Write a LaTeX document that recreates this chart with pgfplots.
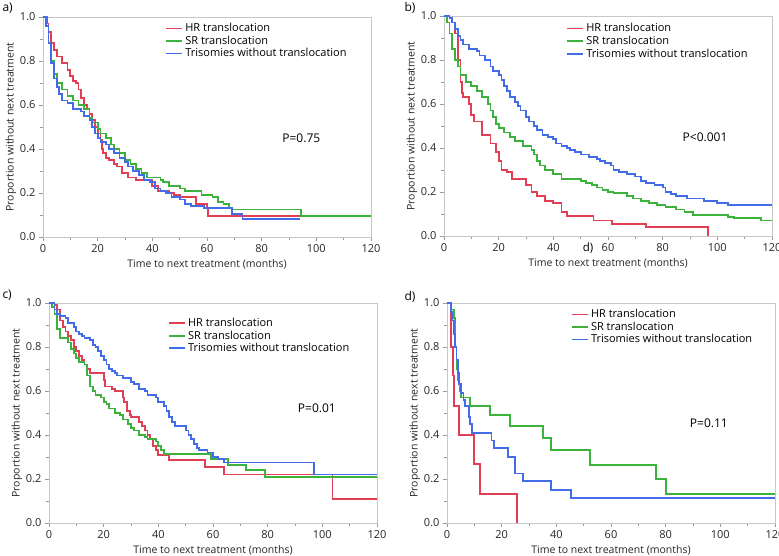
\documentclass[border=0pt]{standalone}
\usepackage{fontspec}
\setmainfont{Open Sans}
\usepackage{pgfplots}
\pgfplotsset{compat=1.18}

\definecolor{hrred}{RGB}{226,62,84}
\definecolor{srgreen}{RGB}{58,178,60}
\definecolor{trblue}{RGB}{66,108,232}

\tikzset{pval/.style={font=\fontsize{12}{14}\selectfont}}
\pgfplotsset{
  km/.style={
    scale only axis, width=328pt, height=220pt,
    xmin=0, xmax=120, ymin=0, ymax=1,
    xtick={0,20,...,120}, ytick={0,0.2,...,1},
    minor x tick num=1, minor y tick num=1,
    tick align=outside, xtick pos=bottom, ytick pos=left,
    major tick length=4pt, minor tick length=3pt,
    axis line style={black!22, line width=0.9pt},
    tick style={black!40, line width=0.7pt},
    /pgf/number format/assume math mode=true,
    tick label style={font=\fontsize{11}{13}\selectfont, text=black!85},
    yticklabel style={/pgf/number format/.cd, fixed, fixed zerofill, precision=1},
    label style={font=\fontsize{10.5}{12}\selectfont, text=black!85},
    xlabel={Time to next treatment (months)},
    ylabel={Proportion without next treatment},
    xlabel style={yshift=0pt},
    ylabel style={yshift=-3pt},
    legend cell align=left,
    legend style={draw=none, fill=none, font=\fontsize{11}{13.5}\selectfont,
      anchor=north west, row sep=-1.3pt, inner sep=1pt},
    legend image code/.code={\draw[#1] (0pt,0pt) -- (16pt,0pt);},
  },
  hr/.style={const plot, color=hrred, line width=1.8pt, mark=none},
  sr/.style={const plot, color=srgreen, line width=1.8pt, mark=none},
  tr/.style={const plot, color=trblue, line width=1.8pt, mark=none},
}

\begin{document}
\begin{tikzpicture}
\path[use as bounding box] (0pt,0pt) rectangle (779pt,556pt);

% ---------- a)
\begin{axis}[km, at={(43pt,319pt)}, anchor=south west, legend style={at={(0.37,0.985)}}]
\addplot[hr] coordinates {(0,1) (1.5,0.97) (2,0.93) (3,0.88) (4,0.85) (5,0.82) (7,0.79) (9,0.76) (10,0.73) (11,0.71) (12,0.70) (13,0.67) (14,0.63) (15,0.60) (16,0.58) (17,0.56) (18,0.53) (19,0.50) (20,0.47) (21,0.44) (21.5,0.40) (22,0.38) (23,0.36) (24,0.35) (26,0.33) (27,0.32) (29,0.29) (31,0.27) (34,0.26) (40,0.23) (42,0.21) (46,0.20) (48,0.19) (50,0.18) (56,0.15) (60,0.13) (60.5,0.095) (94,0.095)};
\addplot[sr] coordinates {(0,1) (1,0.96) (2,0.88) (3,0.80) (4,0.74) (5,0.70) (7,0.67) (9,0.64) (11,0.62) (13,0.60) (15,0.58) (17,0.54) (18,0.52) (20,0.49) (21,0.47) (23,0.45) (25,0.42) (26,0.40) (28,0.38) (30,0.35) (32,0.33) (34,0.31) (36,0.29) (38,0.27) (43,0.26) (44,0.25) (46,0.23) (50,0.22) (52,0.21) (58,0.19) (62,0.18) (64,0.16) (66,0.15) (68,0.13) (69,0.125) (94.5,0.095) (120,0.095)};
\addplot[tr] coordinates {(0,1) (1,0.96) (2,0.88) (3,0.79) (4,0.72) (5,0.68) (6,0.65) (7,0.62) (9,0.61) (11,0.58) (14,0.57) (15,0.55) (17,0.53) (18,0.50) (19,0.47) (20,0.45) (21,0.43) (23,0.42) (24,0.40) (26,0.38) (28,0.36) (30,0.34) (31,0.32) (33,0.30) (35,0.28) (37,0.26) (39,0.25) (41,0.22) (43,0.21) (45,0.20) (47,0.18) (50,0.17) (52,0.15) (54,0.14) (59,0.13) (69,0.105) (73,0.08) (94,0.08)};
\legend{HR translocation, SR translocation, Trisomies without translocation}
\node[pval] at (axis cs:94.5,0.45) {P=0.75};
\end{axis}

% ---------- b)
\begin{axis}[km, at={(444pt,320pt)}, anchor=south west, legend style={at={(0.37,0.98)}}]
\addplot[hr] coordinates {(0,1) (2,0.99) (3,0.97) (4,0.92) (5,0.80) (6,0.70) (6.5,0.65) (7,0.63) (9,0.60) (10,0.55) (11,0.52) (14,0.46) (17,0.42) (19,0.38) (20,0.34) (21,0.30) (23,0.29) (25,0.26) (30,0.23) (32,0.20) (34,0.18) (37,0.16) (40,0.15) (43,0.11) (45,0.09) (54.7,0.07) (61.4,0.055) (74,0.04) (96.6,0)};
\addplot[sr] coordinates {(0,1) (1,0.97) (2,0.92) (3,0.85) (4,0.80) (5,0.77) (6,0.73) (8,0.70) (10,0.68) (12,0.66) (14,0.63) (16,0.60) (17,0.57) (18,0.54) (19,0.51) (20,0.49) (22,0.47) (24,0.45) (26,0.43) (29,0.41) (32,0.39) (33,0.37) (34,0.34) (35,0.32) (37,0.30) (40,0.28) (43,0.26) (50,0.25) (52,0.24) (54,0.23) (56,0.22) (58,0.21) (60,0.20) (62,0.195) (67,0.18) (69,0.17) (72,0.16) (75,0.15) (78,0.14) (81,0.13) (85,0.12) (88,0.11) (91,0.095) (104,0.085) (106,0.08) (116,0.07) (120,0.07)};
\addplot[tr] coordinates {(0,1) (2,0.99) (3,0.97) (4,0.94) (5,0.91) (6,0.89) (7,0.87) (9,0.85) (12,0.84) (13,0.82) (15,0.80) (17,0.77) (18,0.75) (20,0.73) (21,0.71) (22,0.68) (23,0.66) (24,0.63) (26,0.61) (27,0.59) (28,0.57) (30,0.54) (31,0.52) (33,0.50) (34,0.48) (36,0.46) (38,0.45) (40,0.44) (41,0.42) (43,0.41) (45,0.40) (46,0.39) (48,0.38) (50,0.37) (53,0.36) (56,0.35) (57,0.34) (59,0.33) (61,0.32) (62,0.30) (64,0.29) (67,0.28) (70,0.27) (72,0.25) (74,0.24) (77,0.23) (80,0.22) (81,0.20) (83,0.19) (85,0.18) (89,0.17) (95,0.16) (100,0.15) (104,0.14) (120,0.14)};
\legend{HR translocation, SR translocation, Trisomies without translocation}
\node[pval] at (axis cs:95.5,0.45) {P<0.001};
\end{axis}

% ---------- c)
\begin{axis}[km, at={(49pt,33pt)}, anchor=south west, legend style={at={(0.36,0.945)}}]
\addplot[hr] coordinates {(0,1) (2,0.99) (3,0.97) (4,0.92) (5,0.89) (6,0.87) (7,0.85) (8,0.83) (9,0.80) (10,0.78) (11,0.76) (12,0.74) (13,0.72) (14,0.70) (15,0.68) (20,0.65) (20.5,0.62) (23,0.61) (24,0.60) (27,0.57) (27.5,0.55) (28.5,0.51) (29.5,0.49) (30,0.48) (33,0.46) (34,0.44) (35,0.42) (36,0.40) (37,0.38) (38,0.35) (39,0.33) (40,0.31) (44,0.285) (57,0.255) (64,0.22) (103.7,0.11) (120,0.11)};
\addplot[sr] coordinates {(0,1) (1,0.98) (2,0.95) (3,0.88) (4,0.84) (7,0.82) (8,0.79) (9,0.77) (10,0.75) (11,0.73) (13,0.72) (14,0.67) (15,0.62) (16,0.60) (17,0.58) (19,0.57) (20,0.55) (21,0.54) (22,0.52) (24,0.50) (26,0.49) (27,0.47) (29,0.45) (30,0.43) (31,0.42) (33,0.40) (35,0.39) (36,0.38) (39,0.37) (40,0.35) (41,0.33) (42,0.315) (59.2,0.29) (65.4,0.265) (72,0.24) (79,0.21) (120,0.21)};
\addplot[tr] coordinates {(0,1) (2,0.97) (3,0.95) (4,0.94) (6,0.93) (7,0.91) (9,0.89) (10,0.87) (11,0.86) (12,0.85) (13,0.84) (15,0.83) (16,0.81) (17,0.80) (18,0.78) (19,0.76) (20,0.74) (21,0.72) (22,0.70) (23,0.69) (24,0.68) (25,0.67) (27,0.66) (30,0.64) (31,0.63) (33,0.61) (35,0.60) (36,0.58) (39,0.57) (40,0.55) (42,0.53) (43,0.51) (44,0.48) (45,0.46) (46,0.44) (50,0.42) (51,0.40) (52,0.38) (53,0.36) (54,0.34) (55,0.33) (58,0.32) (60,0.30) (62,0.29) (64,0.275) (97,0.22) (120,0.22)};
\legend{HR translocation, SR translocation, Trisomies without translocation}
\node[pval] at (axis cs:98,0.52) {P=0.01};
\end{axis}

% ---------- d)
\begin{axis}[km, at={(447pt,33pt)}, anchor=south west, legend style={at={(0.375,0.985)}}]
\addplot[hr] coordinates {(0,1) (1,1) (1.5,0.80) (2.2,0.67) (2.7,0.53) (4.4,0.40) (9.9,0.267) (12,0.133) (25.6,0)};
\addplot[sr] coordinates {(0,1) (1.5,0.97) (2.5,0.93) (3,0.80) (3.5,0.70) (4,0.65) (4.6,0.60) (5.2,0.57) (8.3,0.53) (15.7,0.49) (23,0.44) (35,0.385) (38,0.33) (52.3,0.265) (76.4,0.20) (80.2,0.133) (120,0.133)};
\addplot[tr] coordinates {(0,1) (1.5,0.96) (2,0.92) (2.5,0.86) (3,0.80) (3.5,0.74) (4,0.68) (4.5,0.63) (5,0.59) (6,0.56) (6.5,0.53) (7.95,0.48) (8.5,0.45) (9.2,0.41) (16.3,0.375) (17.3,0.34) (22.4,0.30) (24.8,0.225) (27.9,0.19) (38,0.15) (45.4,0.113) (120,0.113)};
\legend{HR translocation, SR translocation, Trisomies without translocation}
\node[pval] at (axis cs:95.8,0.455) {P=0.11};
\end{axis}

% panel letters
\node[font=\fontsize{12}{14}\selectfont, anchor=west] at (-1pt,548pt) {a)};
\node[font=\fontsize{12}{14}\selectfont, anchor=west] at (401pt,548pt) {b)};
\node[font=\fontsize{12}{14}\selectfont, anchor=west] at (-1pt,261pt) {c)};
\node[font=\fontsize{12}{14}\selectfont, anchor=west] at (401pt,259pt) {d)};
\node[font=\fontsize{11.5}{13}\selectfont] at (588pt,308pt) {d)};
\end{tikzpicture}
\end{document}
